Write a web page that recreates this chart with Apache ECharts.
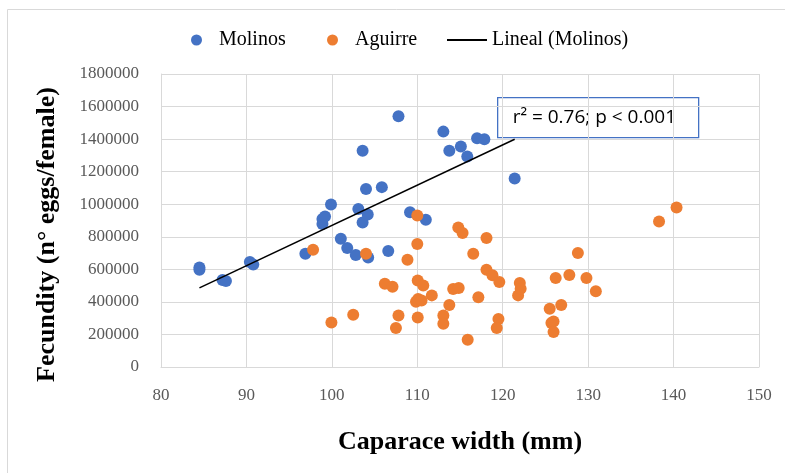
<!DOCTYPE html>
<html><head><meta charset="utf-8">
<script src="https://cdn.jsdelivr.net/npm/echarts@6/dist/echarts.min.js"></script>
<style>html,body{margin:0;padding:0;background:#fff}#c{width:785px;height:473px}</style>
</head><body><div id="c"></div>
<script>
const molinos = [
 [84.5,611000],[84.5,598000],[87.2,534000],[87.6,528000],[90.4,645000],[90.8,630000],
 [96.9,696000],[98.9,878000],[98.9,909000],[99.2,925000],[99.9,998000],[101.05,788000],
 [101.8,731000],[102.8,688000],[103.1,970000],[103.6,888000],[103.6,1328000],[104.0,1093000],
 [104.2,937000],[104.25,673000],[105.85,1105000],[106.6,712000],[107.8,1540000],[109.15,951000],
 [111.0,904000],[113.05,1446000],[113.75,1328000],[115.1,1354000],[115.85,1293000],
 [117.0,1405000],[117.85,1399000],[121.4,1158000]
];
const aguirre = [
 [97.8,720000],[99.95,274000],[102.5,321000],[104.0,696000],[106.2,512000],[107.1,493000],
 [107.5,240000],[107.8,317000],[108.85,659000],[110.0,931000],[110.0,755000],[110.05,532000],
 [110.7,501000],[110.1,418000],[109.85,401000],[110.5,409000],[110.05,304000],[111.7,440000],
 [113.05,317000],[113.05,266000],[113.75,381000],[114.2,479000],[114.85,485000],[114.8,857000],
 [115.3,823000],[115.9,168000],[116.55,696000],[117.15,428000],[118.1,792000],[118.1,598000],
 [118.8,563000],[119.6,522000],[119.5,295000],[119.3,240000],[121.8,440000],[122.0,516000],
 [122.1,481000],[125.5,358000],[125.7,270000],[125.95,280000],[125.95,215000],[126.2,547000],
 [126.85,381000],[127.8,565000],[128.8,700000],[129.8,547000],[130.9,465000],[138.3,894000],
 [140.35,980000]
];
const trendX = [84.5, 121.4];
const trendY = [486000, 1399000];
const annotation = 'r\u00B2 = 0.76; p < 0.001';
const xTitle = 'Caparace width (mm)';
const yTitle = 'Fecundity (n\u00B0 eggs/female)';

const serif = '"Liberation Serif", "DejaVu Serif", serif';
const chart = echarts.init(document.getElementById('c'));
const legendText = {fontFamily: serif, fontSize: 20, color: '#000'};
chart.setOption({
  animation: false,
  grid: {left: 161, right: 26, top: 74, bottom: 106, containLabel: false},
  xAxis: {
    type: 'value', min: 80, max: 150, interval: 10,
    name: xTitle, nameLocation: 'middle', nameGap: 62,
    nameTextStyle: {fontFamily: serif, fontSize: 26, fontWeight: 'bold', color: '#000'},
    axisLine: {show: true, lineStyle: {color: '#d9d9d9'}},
    axisTick: {show: false},
    axisLabel: {fontFamily: serif, fontSize: 17, color: '#595959', margin: 20},
    splitLine: {show: true, lineStyle: {color: '#d9d9d9', width: 1}}
  },
  yAxis: {
    type: 'value', min: 0, max: 1800000, interval: 200000,
    name: yTitle, nameLocation: 'middle', nameGap: 101, nameRotate: 90,
    nameTextStyle: {fontFamily: serif, fontSize: 26, fontWeight: 'bold', color: '#000', padding: [0, 28, 0, 0]},
    axisLine: {show: true, lineStyle: {color: '#d9d9d9'}},
    axisTick: {show: false},
    axisLabel: {fontFamily: serif, fontSize: 17, color: '#595959', margin: 22, formatter: v => String(v)},
    splitLine: {show: true, lineStyle: {color: '#d9d9d9', width: 1}}
  },
  legend: [
    {data: [{name: 'Molinos', icon: 'circle'}], left: 186, top: 25, itemWidth: 11, itemHeight: 11,
     textStyle: Object.assign({padding: [0, 0, 0, 12]}, legendText)},
    {data: [{name: 'Aguirre', icon: 'circle'}], left: 322, top: 25, itemWidth: 11, itemHeight: 11,
     textStyle: Object.assign({padding: [0, 0, 0, 12]}, legendText)},
    {data: [{name: 'Lineal (Molinos)', icon: 'rect'}], left: 442, top: 25, itemWidth: 40, itemHeight: 2,
     textStyle: Object.assign({padding: [0, 0, 0, 0]}, legendText)}
  ],
  graphic: [
    {type: 'rect', left: 5, top: 7, shape: {width: 790, height: 480}, style: {fill: 'none', stroke: '#d9d9d9', lineWidth: 1}, silent: true},
    {type: 'group', left: 497, top: 97, z: 100, children: [
      {type: 'rect', shape: {x: 0, y: 0, width: 201, height: 40}, style: {fill: '#fff', stroke: '#4472C4', lineWidth: 1.3}},
      {type: 'text', x: 15, y: 20, style: {text: annotation, fontFamily: '"Open Sans", "Liberation Sans", sans-serif', fontSize: 19, fill: '#000', verticalAlign: 'middle'}}
    ]}
  ],
  series: [
    {name: 'Molinos', type: 'scatter', data: molinos, symbolSize: 12, itemStyle: {color: '#4472C4', opacity: 1}, z: 3},
    {name: 'Aguirre', type: 'scatter', data: aguirre, symbolSize: 12, itemStyle: {color: '#ED7D31', opacity: 1}, z: 3},
    {name: 'Lineal (Molinos)', type: 'line', data: trendX.map((x, i) => [x, trendY[i]]), showSymbol: false, symbol: 'none',
     lineStyle: {color: '#000', width: 1.5}, itemStyle: {color: '#000'}, z: 4}
  ]
});
</script></body></html>
